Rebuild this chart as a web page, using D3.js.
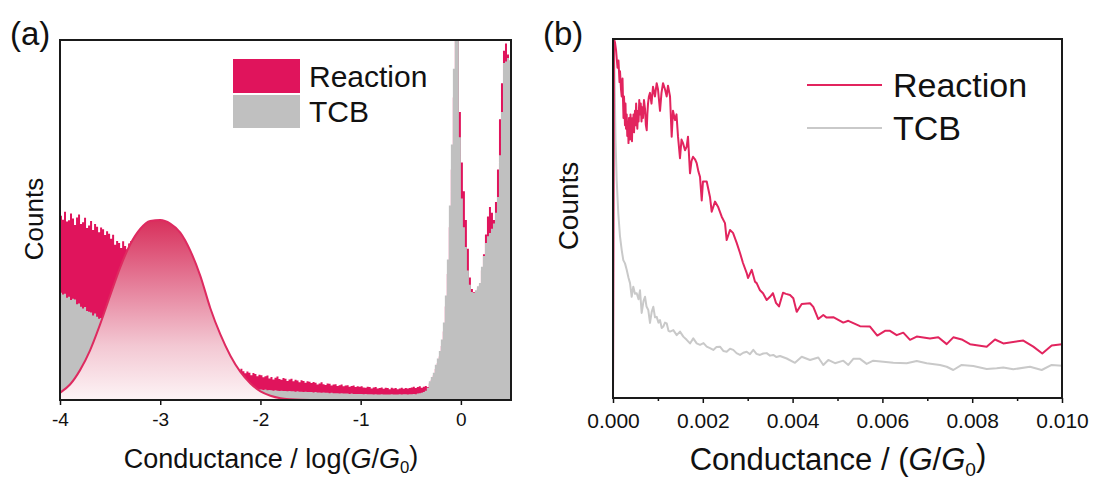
<!DOCTYPE html>
<html>
<head>
<meta charset="utf-8">
<script src="https://cdn.jsdelivr.net/npm/d3@7"></script>
<style>
  html, body { margin: 0; padding: 0; background: #fff; }
  svg { display: block; }
</style>
</head>
<body>
<svg id="chart" width="1094" height="479"></svg>
<script>
// ---------- panel (a): conductance histogram, bins of 0.02 in log(G/G0) from -4
const binStartA = -4;
const binWidthA = 0.02;

const reactionCountsA = [
  51.2, 50.1, 52.3, 49.6, 49.9, 51.8, 50.4, 48.6, 50.7, 51.5, 48.9, 49.4, 50.6, 47.8, 48.5, 49.7, 47.2, 48.9, 48.1, 46.6, 47.9, 47.4, 45.8, 46.9, 46.2,
  44.8, 45.9, 43.1, 44.2, 43.6, 42.2, 44.1, 42.8, 41.9, 43.5, 44.2, 42.9, 44.6, 45.8, 44.3, 46.2, 45.1, 47.0, 46.1, 46.8, 45.9, 46.4, 45.2, 45.8, 44.6,
  44.0, 43.1, 42.0, 41.2, 40.1, 39.0, 38.2, 37.1, 36.0, 35.2, 34.1, 33.0, 32.0, 31.1, 30.0, 29.0, 28.1, 27.0, 26.0, 25.1, 24.0, 23.0, 22.1, 21.0, 20.0,
  18.5, 17.6, 16.4, 15.5, 14.6, 13.8, 12.9, 12.1, 11.3, 10.6, 9.9, 9.6, 9.3, 8.9, 8.2, 8.7, 8.0, 7.4, 7.9, 7.6, 6.9, 7.5, 7.2, 6.6, 7.0,
  6.9, 6.3, 6.6, 6.8, 6.0, 6.4, 5.7, 6.2, 6.5, 5.8, 5.6, 6.1, 5.9, 5.3, 5.7, 5.9, 5.2, 5.6, 5.4, 4.9, 5.5, 5.3, 4.8, 5.2, 5.1,
  4.7, 5.0, 4.8, 4.3, 4.6, 4.9, 4.4, 4.2, 4.6, 4.5, 4.0, 4.3, 4.4, 3.9, 4.1, 4.3, 3.8, 4.0, 4.1, 3.7, 3.9, 4.0, 3.6, 3.8, 3.7,
  3.8, 3.5, 3.4, 3.7, 3.6, 3.2, 3.5, 3.6, 3.2, 3.3, 3.5, 3.1, 3.4, 3.3, 3.0, 3.4, 3.2, 3.3, 3.0, 3.2, 3.4, 3.1, 3.3, 3.2, 3.3,
  3.5, 3.7, 3.3, 3.6, 3.8, 3.4, 3.7, 3.9, 3.6, 4.6, 5.6, 6.8, 8.6, 10.2, 12.1, 15, 19, 26, 35, 48, 64, 84, 104, 102, 80,
  66, 58, 50, 42, 34, 30.8, 29.9, 30, 31, 32, 36, 40.5, 46, 51, 53.6, 52, 50, 55, 64, 78, 88, 97, 99, 96, 94
];

const tcbCountsA = [
  29.8, 29.3, 29.5, 28.4, 28.7, 27.8, 28.1, 27.9, 26.6, 26.8, 25.9, 25.4, 25.8, 24.7, 24.5, 24.3, 23.5, 24.0, 23.1, 22.6, 22.8, 22.0, 21.6, 21.9, 21.1,
  20.6, 20.1, 19.5, 19.0, 18.4, 17.9, 17.3, 16.8, 16.2, 15.7, 15.1, 14.6, 14.2, 13.7, 13.3, 12.9, 12.5, 12.1, 11.7, 11.3, 11.0, 10.6, 10.3, 10.0, 9.7,
  9.4, 9.1, 8.9, 8.6, 8.4, 8.1, 7.9, 7.7, 7.5, 7.3, 7.1, 6.9, 6.8, 6.6, 6.5, 6.3, 6.2, 6.0, 5.9, 5.8, 5.6, 5.5, 5.4, 5.3, 5.2,
  5.1, 5.0, 4.9, 4.8, 4.7, 4.6, 4.5, 4.4, 4.3, 4.2, 4.1, 4.0, 3.9, 3.8, 3.7, 3.6, 3.5, 3.4, 3.3, 3.2, 3.1, 3.1, 3.0, 2.9, 2.9,
  2.9, 2.8, 2.9, 2.7, 2.8, 2.7, 2.6, 2.7, 2.6, 2.5, 2.6, 2.5, 2.5, 2.4, 2.5, 2.4, 2.4, 2.3, 2.4, 2.3, 2.3, 2.2, 2.3, 2.2, 2.2,
  2.2, 2.1, 2.2, 2.1, 2.1, 2.0, 2.1, 2.0, 2.0, 1.9, 2.0, 1.9, 1.9, 1.9, 1.8, 1.9, 1.8, 1.8, 1.8, 1.7, 1.8, 1.7, 1.7, 1.7, 1.7,
  1.7, 1.6, 1.7, 1.6, 1.6, 1.6, 1.5, 1.6, 1.5, 1.5, 1.6, 1.5, 1.5, 1.5, 1.5, 1.6, 1.5, 1.5, 1.5, 1.6, 1.5, 1.6, 1.6, 1.5, 1.6,
  1.6, 1.7, 1.6, 1.8, 1.9, 2.0, 2.2, 2.6, 3.4, 5.2, 6.4, 7.6, 9.8, 11.5, 13.6, 16.8, 21.5, 29, 39, 54, 71, 92, 112, 108, 73,
  56, 48, 42.5, 36, 32, 30, 29.7, 30.5, 31.6, 32.5, 37, 40, 43.6, 45.5, 46.4, 47.6, 49, 52, 56.4, 68, 80, 93.6, 94, 95, 94.4
];

// gaussian fit: [log(G/G0), counts]
const fitCurveA = [
  [-4.0, 2.0], [-3.9, 4.3], [-3.8, 8.3], [-3.7, 13.8], [-3.6, 21.0], [-3.5, 29.0], [-3.4, 36.8],
  [-3.3, 43.2], [-3.2, 47.5], [-3.1, 49.7], [-3.0, 50.0], [-2.9, 49.0], [-2.8, 46.5], [-2.7, 41.5],
  [-2.6, 34.5], [-2.5, 25.5], [-2.4, 18.2], [-2.3, 12.3], [-2.2, 7.8], [-2.1, 4.6], [-2.0, 2.4],
  [-1.9, 1.2], [-1.8, 0.5], [-1.7, 0.2], [-1.6, 0.05], [-1.5, 0]
];

const ticksA = [-4, -3, -2, -1, 0];

// ---------- panel (b): linear conductance, [G/G0, counts]
const reactionB = [
  [0, 0], [0.000022, 100], [0.000045, 99], [0.000067, 97], [0.0001, 92], [0.000122, 94], [0.000145, 88],
  [0.000156, 91], [0.000178, 86], [0.000194, 84], [0.000212, 89], [0.000223, 83], [0.000234, 78],
  [0.000245, 84], [0.000256, 80], [0.000267, 76], [0.000278, 82], [0.00029, 75], [0.000305, 79],
  [0.000318, 73], [0.000334, 77], [0.000345, 71], [0.000356, 78], [0.000367, 74], [0.000379, 72],
  [0.00039, 79], [0.000401, 73], [0.000412, 77], [0.000423, 71.5], [0.000434, 78], [0.000445, 75],
  [0.000457, 79], [0.000468, 74], [0.000479, 77], [0.00049, 80], [0.000503, 76], [0.000515, 82],
  [0.000528, 78], [0.000542, 75], [0.000557, 80], [0.00057, 77], [0.000585, 83], [0.000601, 79],
  [0.000618, 82], [0.000635, 77], [0.00065, 81], [0.000668, 78], [0.00069, 83], [0.000713, 80.5],
  [0.000732, 76], [0.000751, 74.6], [0.000765, 79], [0.00078, 82], [0.0008, 84],
  [0.000824, 85], [0.000857, 82],
  [0.000891, 86.7], [0.000935, 84], [0.000973, 87.7], [0.001002, 86], [0.001047, 80], [0.00108, 85],
  [0.001114, 87.7], [0.001158, 86], [0.001196, 84], [0.001225, 87], [0.00127, 84], [0.001307, 72.8],
  [0.001336, 80], [0.001381, 77.4], [0.001414, 79], [0.001448, 72.8], [0.001492, 66.8], [0.001526, 72],
  [0.001559, 71], [0.001604, 69], [0.001641, 70], [0.00167, 72.8], [0.001715, 62.6], [0.001748, 66],
  [0.001782, 67.2], [0.001826, 66.5], [0.001864, 65.4], [0.001904, 63], [0.001938, 61.6], [0.001976, 55],
  [0.002004, 60.3], [0.002087, 60.3], [0.00216, 56], [0.002198, 51.9], [0.002272, 54.7], [0.002339, 53.3],
  [0.002421, 50.5], [0.002494, 48.7], [0.002532, 44], [0.002606, 46.8], [0.002673, 46], [0.002755, 43.2],
  [0.002829, 40.4], [0.002895, 37.6], [0.002978, 34.8], [0.003007, 33.4], [0.003089, 35.7], [0.003163, 32.4],
  [0.0032, 32], [0.003274, 30], [0.003341, 29.2], [0.003423, 27.3], [0.003497, 28.2], [0.003563, 29.2],
  [0.00363, 26.5], [0.003697, 25.5], [0.003786, 29.3], [0.003853, 29.0], [0.003942, 28.7], [0.004016, 27.8],
  [0.004091, 24], [0.004203, 26.2], [0.004388, 26.4], [0.004461, 25.4], [0.004572, 22], [0.004684, 23.1],
  [0.004759, 22.4], [0.004906, 22.5], [0.005129, 21], [0.005241, 21.5], [0.005501, 20], [0.005724, 19.9],
  [0.005886, 17.4], [0.006058, 18.7], [0.006169, 18.7], [0.006318, 17.5], [0.006465, 18.2], [0.006615, 16.2],
  [0.006764, 17.1], [0.00706, 16.6], [0.007245, 16.9], [0.007432, 15], [0.007579, 16.9], [0.007766, 16.3],
  [0.007951, 15], [0.008323, 14.3], [0.008508, 16.3], [0.008693, 15.2], [0.009138, 16], [0.009361, 14.3],
  [0.009561, 12.4], [0.00977, 14.6], [0.01, 15]
];

const tcbB = [
  [0, 0], [0.000022, 100], [0.000056, 72], [0.000082, 60.7], [0.000118, 51.4], [0.000156, 45],
  [0.000194, 41.2], [0.000229, 38.4], [0.000267, 37.5], [0.000305, 35.7], [0.000345, 33.5], [0.000379, 32],
  [0.000416, 28.2], [0.000452, 31], [0.00049, 29], [0.000528, 29.2], [0.000568, 27.5], [0.000601, 30],
  [0.000639, 23.7], [0.000679, 27], [0.000713, 28.2], [0.000746, 25.5], [0.000786, 24.5], [0.000824, 20.9],
  [0.000862, 24], [0.000898, 25.4], [0.000935, 22.5], [0.000973, 22.6], [0.001013, 21], [0.001047, 21.7],
  [0.001085, 19.5], [0.00112, 19.9], [0.001158, 21], [0.001196, 20.8], [0.001236, 18.7], [0.00127, 18.5],
  [0.001343, 18.9], [0.001419, 17.5], [0.001492, 18.5], [0.001566, 17.1], [0.001641, 16.2], [0.001715, 15.2],
  [0.001788, 16.6], [0.001864, 15.2], [0.001938, 14.8], [0.002016, 15.3], [0.002087, 14.3], [0.00216, 13.9],
  [0.002234, 13.4], [0.002305, 14.2], [0.002383, 14.3], [0.002457, 13.1], [0.002532, 12.9], [0.002606, 13.7],
  [0.002679, 13.4], [0.002751, 12.5], [0.002829, 12], [0.002902, 12.6], [0.002978, 12.9], [0.003051, 12.2],
  [0.003125, 13.4], [0.003196, 12.3], [0.003274, 12], [0.003347, 12.4], [0.003423, 12.5], [0.003497, 11.8],
  [0.00357, 12], [0.003641, 11.4], [0.003719, 11.7], [0.003869, 11], [0.004053, 9.8], [0.004203, 11.5],
  [0.004388, 10.6], [0.004572, 11.3], [0.004684, 9.2], [0.004795, 10.6], [0.004944, 9.7], [0.005129, 10.4],
  [0.005241, 9.2], [0.005352, 10.9], [0.005501, 10.9], [0.00565, 9.5], [0.005797, 10.4], [0.00602, 10.1],
  [0.006243, 9.8], [0.006541, 9.7], [0.006764, 10.3], [0.006987, 9.7], [0.007283, 9.2], [0.007432, 8.7],
  [0.007579, 7.8], [0.007766, 9.2], [0.008024, 8.9], [0.008323, 8.1], [0.008546, 8.3], [0.008693, 8.5],
  [0.008915, 8], [0.009287, 8.7], [0.009548, 7.8], [0.00977, 9.2], [0.01, 9]
];

const ticksB = [0, 0.002, 0.004, 0.006, 0.008, 0.010];
const minorTicksB = [0.001, 0.003, 0.005, 0.007, 0.009];

const seriesNames = ["Reaction", "TCB"];

const FONT = "'Liberation Sans', Arial, Helvetica, sans-serif";
const RED = "#e0145c";
const GRAY = "#c0c0c0";
const RED_LINE = "#e2245e";
const GRAY_LINE = "#c9c9c9";

var svg = d3.select("#chart");
svg.append("rect").attr("width", 1094).attr("height", 479).attr("fill", "#fff");
var defs = svg.append("defs");

// axis title with italic G and subscript 0
function axisTitle(sel, before) {
  sel.append("tspan").text(before);
  sel.append("tspan").attr("font-style", "italic").text("G");
  sel.append("tspan").text("/");
  sel.append("tspan").attr("font-style", "italic").text("G");
  sel.append("tspan").attr("font-size", "0.62em").attr("dy", "0.32em").text("0");
  sel.append("tspan").attr("dy", "-0.32em").text(")");
}

function styleAxis(g, size) {
  g.select(".domain").remove();
  g.selectAll("line").attr("stroke", "#111").attr("stroke-width", 1.5);
  g.selectAll("text").attr("font-family", FONT).attr("font-size", size).attr("fill", "#111");
}

// ================= panel (a) =================
var xA = d3.scaleLinear().domain([-4, 0.5]).range([60, 511]);
var yA = d3.scaleLinear().domain([0, 100]).range([400, 40]);

defs.append("clipPath").attr("id", "clipA")
  .append("rect").attr("x", 60).attr("y", 40).attr("width", 451).attr("height", 360);

var grad = defs.append("linearGradient").attr("id", "fitGrad")
  .attr("gradientUnits", "userSpaceOnUse")
  .attr("x1", 0).attr("x2", 0).attr("y1", yA(50)).attr("y2", yA(0));
grad.append("stop").attr("offset", 0).attr("stop-color", "#d8305c");
grad.append("stop").attr("offset", 0.35).attr("stop-color", "#e57c98");
grad.append("stop").attr("offset", 0.7).attr("stop-color", "#f3c8d3");
grad.append("stop").attr("offset", 1).attr("stop-color", "#fdf4f6");

function histPoints(counts) {
  var pts = counts.map((c, i) => ({ x: binStartA + i * binWidthA, y: c }));
  pts.push({ x: binStartA + counts.length * binWidthA, y: counts[counts.length - 1] });
  return pts;
}

var histArea = d3.area()
  .curve(d3.curveStepAfter)
  .x(d => xA(d.x))
  .y0(yA(0))
  .y1(d => yA(d.y));

var plotA = svg.append("g").attr("clip-path", "url(#clipA)");

plotA.append("path")
  .attr("d", histArea(histPoints(reactionCountsA)))
  .attr("fill", RED);

plotA.append("path")
  .attr("d", histArea(histPoints(tcbCountsA)))
  .attr("fill", GRAY);

var fitArea = d3.area()
  .curve(d3.curveMonotoneX)
  .x(d => xA(d[0]))
  .y0(yA(0))
  .y1(d => yA(d[1]));

var fitLine = d3.line()
  .curve(d3.curveMonotoneX)
  .x(d => xA(d[0]))
  .y(d => yA(d[1]));

plotA.append("path").attr("d", fitArea(fitCurveA)).attr("fill", "url(#fitGrad)");
plotA.append("path").attr("d", fitLine(fitCurveA))
  .attr("fill", "none").attr("stroke", "#de2a60").attr("stroke-width", 2);

var axA = svg.append("g").attr("transform", "translate(0,400)")
  .call(d3.axisBottom(xA).tickValues(ticksA).tickFormat(d => String(d))
    .tickSize(5).tickPadding(8).tickSizeOuter(0));
styleAxis(axA, 19);

svg.append("rect")
  .attr("x", 60).attr("y", 40).attr("width", 451).attr("height", 360)
  .attr("fill", "none").attr("stroke", "#1a1a1a").attr("stroke-width", 2);

// legend (a)
var legA = svg.append("g").attr("font-family", FONT).attr("font-size", 30).attr("fill", "#111");
legA.append("rect").attr("x", 233).attr("y", 59).attr("width", 67).attr("height", 34).attr("fill", RED);
legA.append("rect").attr("x", 233).attr("y", 95).attr("width", 67).attr("height", 33).attr("fill", GRAY);
legA.append("text").attr("x", 309).attr("y", 87).text(seriesNames[0]);
legA.append("text").attr("x", 309).attr("y", 122).text(seriesNames[1]);

svg.append("text").attr("x", 10).attr("y", 45)
  .attr("font-family", FONT).attr("font-size", 33).attr("fill", "#111").text("(a)");

svg.append("text")
  .attr("transform", "translate(43,219) rotate(-90)")
  .attr("text-anchor", "middle")
  .attr("font-family", FONT).attr("font-size", 26).attr("fill", "#111")
  .text("Counts");

svg.append("text")
  .attr("x", 271).attr("y", 468)
  .attr("text-anchor", "middle")
  .attr("font-family", FONT).attr("font-size", 27).attr("fill", "#111")
  .call(axisTitle, "Conductance / log(");

// ================= panel (b) =================
var xB = d3.scaleLinear().domain([0, 0.01]).range([613, 1062]);
var yB = d3.scaleLinear().domain([0, 100]).range([398, 39]);

defs.append("clipPath").attr("id", "clipB")
  .append("rect").attr("x", 613).attr("y", 39).attr("width", 449).attr("height", 359);

var lineB = d3.line()
  .x(d => xB(d[0]))
  .y(d => yB(d[1]));

var plotB = svg.append("g").attr("clip-path", "url(#clipB)");

plotB.append("path").attr("d", lineB(tcbB))
  .attr("fill", "none").attr("stroke", GRAY_LINE).attr("stroke-width", 2)
  .attr("stroke-linejoin", "round");

plotB.append("path").attr("d", lineB(reactionB))
  .attr("fill", "none").attr("stroke", RED_LINE).attr("stroke-width", 2)
  .attr("stroke-linejoin", "round");

var axB = svg.append("g").attr("transform", "translate(0,398)")
  .call(d3.axisBottom(xB).tickValues(ticksB).tickFormat(d3.format(".3f"))
    .tickSize(5).tickPadding(10).tickSizeOuter(0));
styleAxis(axB, 21);

var axBminor = svg.append("g").attr("transform", "translate(0,398)")
  .call(d3.axisBottom(xB).tickValues(minorTicksB).tickFormat("")
    .tickSize(3).tickSizeOuter(0));
styleAxis(axBminor, 21);

svg.append("rect")
  .attr("x", 613).attr("y", 39).attr("width", 449).attr("height", 359)
  .attr("fill", "none").attr("stroke", "#1a1a1a").attr("stroke-width", 2);

// legend (b)
var legB = svg.append("g").attr("font-family", FONT).attr("font-size", 34).attr("fill", "#111");
legB.append("line").attr("x1", 807).attr("x2", 882).attr("y1", 85).attr("y2", 85)
  .attr("stroke", RED_LINE).attr("stroke-width", 2);
legB.append("line").attr("x1", 807).attr("x2", 882).attr("y1", 128).attr("y2", 128)
  .attr("stroke", GRAY_LINE).attr("stroke-width", 2);
legB.append("text").attr("x", 893).attr("y", 97).text(seriesNames[0]);
legB.append("text").attr("x", 893).attr("y", 140).text(seriesNames[1]);

svg.append("text").attr("x", 543).attr("y", 45)
  .attr("font-family", FONT).attr("font-size", 33).attr("fill", "#111").text("(b)");

svg.append("text")
  .attr("transform", "translate(578,206) rotate(-90)")
  .attr("text-anchor", "middle")
  .attr("font-family", FONT).attr("font-size", 28).attr("fill", "#111")
  .text("Counts");

svg.append("text")
  .attr("x", 838).attr("y", 470)
  .attr("text-anchor", "middle")
  .attr("font-family", FONT).attr("font-size", 31).attr("fill", "#111")
  .call(axisTitle, "Conductance / (");
</script>
</body>
</html>
